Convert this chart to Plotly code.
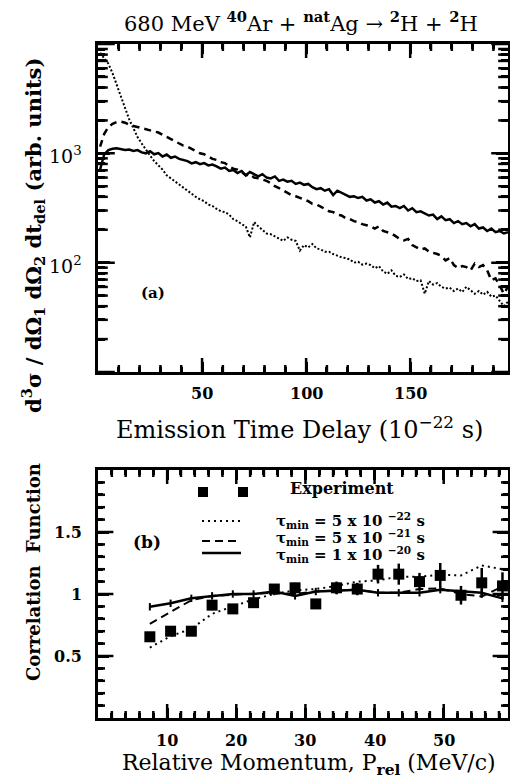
import math
import plotly.graph_objects as go

W, H = 510, 784

# ---------------- Panel (a) data ----------------
t_delay = list(range(1, 199, 2))  # emission time delay (1e-22 s)

tau_1e20 = [710, 980, 1070, 1100, 1110, 1095, 1075, 1085, 1050, 1070,
            1020, 1000, 1045, 980, 1005, 935, 975, 910, 935, 890,
            870, 850, 810, 830, 795, 815, 775, 790, 760, 725,
            740, 690, 705, 660, 690, 630, 675, 645, 615, 645,
            600, 590, 615, 560, 575, 550, 560, 525, 540, 515,
            525, 490, 470, 480, 455, 470, 415, 455, 435, 415,
            400, 405, 390, 400, 370, 380, 355, 365, 340, 355,
            325, 330, 315, 330, 300, 315, 290, 295, 280, 270,
            275, 250, 265, 245, 250, 230, 240, 225, 230, 215,
            225, 205, 210, 195, 205, 190, 195, 185, 190]

tau_5e21 = [1150, 1510, 1740, 1860, 1930, 1950, 1905, 1820, 1780, 1740,
            1700, 1660, 1620, 1585, 1550, 1480, 1410, 1350, 1290, 1230,
            1175, 1150, 1095, 1045, 1000, 980, 935, 890, 870, 830,
            815, 760, 725, 710, 675, 630, 645, 600, 590, 575,
            560, 535, 500, 480, 455, 435, 415, 405, 390, 380,
            365, 345, 340, 325, 310, 295, 290, 275, 270, 255,
            250, 240, 235, 225, 220, 215, 205, 215, 195, 190,
            185, 175, 165, 160, 165, 145, 138, 132, 135, 126,
            123, 120, 115, 105, 110, 95, 89, 93, 91, 85,
            98, 91, 95, 85, 69, 72, 62, 52, 60]

tau_5e22 = [8300, 7400, 6600, 5400, 4200, 3250, 2570, 2040, 1700, 1410,
            1230, 1070, 955, 850, 775, 710, 630, 590, 550, 515,
            480, 455, 425, 400, 380, 365, 340, 330, 310, 295,
            290, 275, 250, 240, 225, 215, 170, 235, 215, 200,
            185, 182, 175, 166, 158, 170, 162, 158, 129, 145,
            138, 148, 135, 132, 126, 126, 120, 115, 112, 110,
            107, 100, 102, 96, 98, 95, 89, 93, 83, 79,
            85, 76, 74, 78, 71, 72, 68, 69, 52, 68,
            63, 65, 60, 58, 59, 55, 58, 54, 60, 56,
            52, 55, 51, 54, 49, 50, 45, 40, 44]

# ---------------- Panel (b) data ----------------
p_rel = [7.5, 10.5, 13.5, 16.5, 19.5, 22.5, 25.5, 28.5, 31.5, 34.5,
         37.5, 40.5, 43.5, 46.5, 49.5, 52.5, 55.5, 58.5]
exp_c = [0.655, 0.70, 0.70, 0.91, 0.88, 0.93, 1.04, 1.05, 0.92, 1.05,
         1.04, 1.16, 1.16, 1.10, 1.15, 0.99, 1.09, 1.065]
exp_err = [0.03, 0.03, 0.03, 0.04, 0.03, 0.03, 0.04, 0.04, 0.03, 0.05,
           0.05, 0.075, 0.085, 0.07, 0.10, 0.075, 0.12, 0.11]
c_5e22 = [0.568, 0.66, 0.72, 0.84, 0.90, 0.957, 1.0, 1.03, 1.04, 1.065,
          1.10, 1.11, 1.14, 1.14, 1.155, 1.15, 1.23, 1.20]
c_5e21 = [0.76, 0.857, 0.95, 0.985, 0.995, 1.0, 1.01, 1.0, 1.02, 1.03,
          1.035, 1.01, 1.01, 1.04, 1.045, 1.0, 0.98, 1.06]
c_1e20 = [0.897, 0.925, 0.965, 0.985, 1.0, 1.0, 1.02, 0.985, 1.02, 1.027,
          1.035, 1.01, 1.01, 1.01, 1.035, 1.02, 1.01, 0.965]

# ---------------- Tick values / labels ----------------
xa_major = [50, 100, 150]
xa_labels = ["50", "100", "150"]
xa_minor = [10, 20, 30, 40, 60, 70, 80, 90, 110, 120, 130, 140, 160, 170, 180, 190]
ya_major = [10, 100, 1000, 10000]
ya_labels = {100: "10<sup>2</sup>", 1000: "10<sup>3</sup>"}
ya_minor = [k * 10 ** d for d in (1, 2, 3) for k in range(2, 10)]
xb_major = [10, 20, 30, 40, 50]
xb_labels = ["10", "20", "30", "40", "50"]
xb_minor = [2, 4, 6, 8, 12, 14, 16, 18, 22, 24, 26, 28, 32, 34, 36, 38, 42, 44, 46, 48, 52, 54, 56, 58]
yb_major = [0.5, 1.0, 1.5]
yb_labels = ["0.5", "1", "1.5"]
yb_minor = [0.1, 0.2, 0.3, 0.4, 0.6, 0.7, 0.8, 0.9, 1.1, 1.2, 1.3, 1.4, 1.6, 1.7, 1.8, 1.9]

FONT = "DejaVu Serif"

def px(x):
    return x / W

def py(y):
    return 1 - y / H

# panel geometry (pixels) and ranges
A_X0, A_X1 = 98, 508
A_TOP, A_BOT = 44, 372
B_TOP, B_BOT = 470, 718
XA_RANGE = [0, 197]
YA_RANGE_LOG = [1, 4]
XB_RANGE = [0, 59.3]
YB_RANGE = [0, 2]

fig = go.Figure()

# panel (a)
fig.add_trace(go.Scatter(x=t_delay, y=tau_5e22, mode="lines", xaxis="x", yaxis="y",
                         line=dict(color="black", width=2, dash="2px,2px"), showlegend=False))
fig.add_trace(go.Scatter(x=t_delay, y=tau_5e21, mode="lines", xaxis="x", yaxis="y",
                         line=dict(color="black", width=2.5, dash="7px,5px"), showlegend=False))
fig.add_trace(go.Scatter(x=t_delay, y=tau_1e20, mode="lines", xaxis="x", yaxis="y",
                         line=dict(color="black", width=2.5), showlegend=False))

# panel (b)
fig.add_trace(go.Scatter(x=p_rel, y=c_5e22, mode="lines", xaxis="x2", yaxis="y2",
                         line=dict(color="black", width=2, dash="2px,4px"), showlegend=False))
fig.add_trace(go.Scatter(x=p_rel, y=c_5e21, mode="lines", xaxis="x2", yaxis="y2",
                         line=dict(color="black", width=2, dash="8px,5px"), showlegend=False))
fig.add_trace(go.Scatter(x=p_rel, y=c_1e20, mode="lines", xaxis="x2", yaxis="y2",
                         line=dict(color="black", width=2.5),
                         error_y=dict(type="constant", value=0.03, width=0, thickness=2, color="black"),
                         showlegend=False))
fig.add_trace(go.Scatter(x=p_rel, y=exp_c, mode="markers", xaxis="x2", yaxis="y2",
                         marker=dict(symbol="square", size=11, color="black"),
                         error_y=dict(type="data", array=exp_err, width=0, thickness=2.5, color="black"),
                         showlegend=False))

# ---------- tick marks: line markers centred on the frame, clipped to the plot area ----------
def add_tick_markers(xaxis, yaxis, xr, yr, xvals, yvals, xlen, ylen, ylog=False):
    conv = (lambda v: 10 ** v) if ylog else (lambda v: v)
    # x ticks on bottom and top edges
    fig.add_trace(go.Scatter(
        x=list(xvals) + list(xvals),
        y=[conv(yr[0])] * len(xvals) + [conv(yr[1])] * len(xvals),
        mode="markers", xaxis=xaxis, yaxis=yaxis, cliponaxis=True, hoverinfo="skip",
        showlegend=False,
        marker=dict(symbol="line-ns", size=2 * xlen, color="black",
                    line=dict(width=2.5, color="black"))))
    # y ticks on left and right edges
    fig.add_trace(go.Scatter(
        x=[xr[0]] * len(yvals) + [xr[1]] * len(yvals),
        y=list(yvals) + list(yvals),
        mode="markers", xaxis=xaxis, yaxis=yaxis, cliponaxis=True, hoverinfo="skip",
        showlegend=False,
        marker=dict(symbol="line-ew", size=2 * ylen, color="black",
                    line=dict(width=2.5, color="black"))))

add_tick_markers("x", "y", XA_RANGE, YA_RANGE_LOG, xa_major, ya_major, 10, 12, ylog=True)
add_tick_markers("x", "y", XA_RANGE, YA_RANGE_LOG, xa_minor, ya_minor, 5, 7, ylog=True)
add_tick_markers("x2", "y2", XB_RANGE, YB_RANGE, xb_major, yb_major, 10, 11)
add_tick_markers("x2", "y2", XB_RANGE, YB_RANGE, xb_minor, yb_minor, 5, 5)

xdom = [px(A_X0), px(A_X1)]
axis_common = dict(showline=True, linecolor="black", linewidth=2.5, mirror="allticks",
                   ticks="inside", tickwidth=2.5, tickcolor="black",
                   showticklabels=False, showgrid=False, zeroline=False)

def minor(vals, length):
    return dict(tickmode="array", tickvals=vals, ticks="inside", ticklen=length,
                tickwidth=2.5, tickcolor="black", showgrid=False)

fig.update_layout(
    template="none",
    width=W, height=H, margin=dict(l=0, r=0, t=0, b=0, autoexpand=False),
    paper_bgcolor="white", plot_bgcolor="white",
    font=dict(family=FONT, color="black"),
    xaxis=dict(domain=xdom, anchor="y", range=XA_RANGE, tickvals=xa_major, ticklen=10,
               minor=minor(xa_minor, 5), **axis_common),
    yaxis=dict(domain=[py(A_BOT), py(A_TOP)], anchor="x", type="log", range=YA_RANGE_LOG,
               tickvals=ya_major, ticklen=12, minor=minor(ya_minor, 7), **axis_common),
    xaxis2=dict(domain=xdom, anchor="y2", range=XB_RANGE, tickvals=xb_major, ticklen=10,
                minor=minor(xb_minor, 5), **axis_common),
    yaxis2=dict(domain=[py(B_BOT), py(B_TOP)], anchor="x2", range=YB_RANGE,
                tickvals=yb_major, ticklen=11, minor=minor(yb_minor, 5), **axis_common),
)

# legend keys
shapes = []
for cx in (203, 243):
    shapes.append(dict(type="rect", xref="paper", yref="paper", x0=px(cx - 5), x1=px(cx + 5),
                       y0=py(497), y1=py(487), fillcolor="black", line=dict(width=0)))
for yy, dash, wdt in ((521, "2px,4px", 2), (541, "8px,5px", 2), (553, "solid", 2.5)):
    shapes.append(dict(type="line", xref="paper", yref="paper", x0=px(202), x1=px(241),
                       y0=py(yy), y1=py(yy), line=dict(color="black", width=wdt, dash=dash)))
fig.update_layout(shapes=shapes)

ann = []
def text(x, y, s, size, bold=False, angle=0, xanchor="center"):
    ann.append(dict(x=px(x), y=py(y), xref="paper", yref="paper", text=s, showarrow=False,
                    textangle=angle, xanchor=xanchor, yanchor="middle",
                    font=dict(family=FONT, size=size, color="black", weight="bold" if bold else "normal")))

# tick labels
for v, s in zip(xa_major, xa_labels):
    ann.append(dict(x=v, xref="x", y=py(393), yref="paper", text=s, showarrow=False,
                    yanchor="middle", font=dict(family=FONT, size=16, weight="bold")))
for v, s in ya_labels.items():
    ann.append(dict(x=px(84), xref="paper", y=math.log10(v), yref="y", text=s, showarrow=False,
                    xanchor="right", yanchor="middle", yshift=-2, font=dict(family=FONT, size=19)))
for v, s in zip(xb_major, xb_labels):
    ann.append(dict(x=v, xref="x2", y=py(740), yref="paper", text=s, showarrow=False,
                    yanchor="middle", font=dict(family=FONT, size=16, weight="bold")))
for v, s in zip(yb_major, yb_labels):
    ann.append(dict(x=px(84), xref="paper", y=v, yref="y2", text=s, showarrow=False,
                    xanchor="right", yanchor="middle", font=dict(family=FONT, size=16, weight="bold")))

text(301, 22, "680 MeV <sup><b>40</b></sup>Ar + <sup><b>nat</b></sup>Ag → <sup><b>2</b></sup>H + <sup><b>2</b></sup>H", 21)
text(299, 428, "Emission Time Delay (10<sup>−22</sup> s)", 24)
text(309, 764, "Relative Momentum, P<sub><b>rel</b></sub> (MeV/c)", 22)
text(33, 236, "d<sup>3</sup>σ / dΩ<sub>1</sub> dΩ<sub>2</sub> dt<sub>del</sub> (arb. units)", 21, bold=True, angle=-90)
text(33, 572, "Correlation  Function", 18, bold=True, angle=-90)
text(153, 293, "(a)", 15, bold=True)
text(147, 542, "(b)", 17, bold=True)
text(342, 488, "Experiment", 16, bold=True)
text(274, 520, "τ<sub>min</sub> = 5 x 10 <sup>−22</sup> s", 15, bold=True, xanchor="left")
text(274, 537, "τ<sub>min</sub> = 5 x 10 <sup>−21</sup> s", 15, bold=True, xanchor="left")
text(274, 554, "τ<sub>min</sub> = 1 x 10 <sup>−20</sup> s", 15, bold=True, xanchor="left")
fig.update_layout(annotations=ann)

fig.write_html("out.html")
